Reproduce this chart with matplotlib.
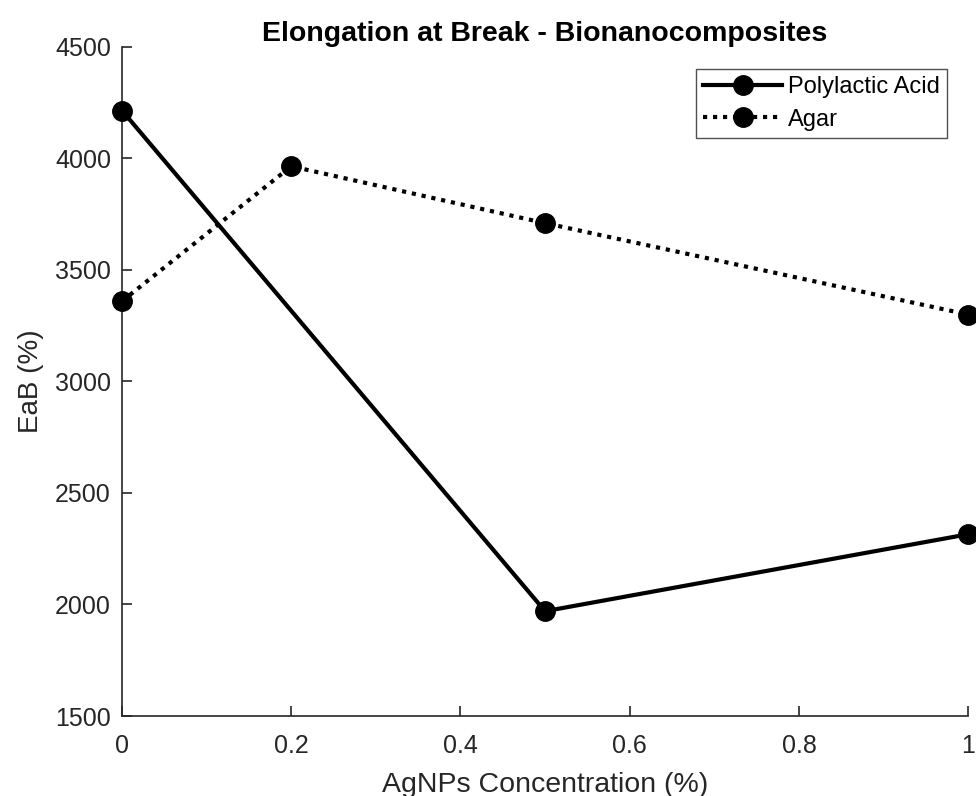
import matplotlib
matplotlib.use("Agg")
import matplotlib.pyplot as plt

plt.rcParams['font.family'] = ['Liberation Sans', 'DejaVu Sans']

# Data
conc_pla = [0, 0.5, 1]
eab_pla = [4215, 1970, 2315]
conc_agar = [0, 0.2, 0.5, 1]
eab_agar = [3360, 3965, 3710, 3300]

axis_col = '#262626'

fig = plt.figure(figsize=(9.76, 7.96), dpi=100)
ax = fig.add_axes([0.125, 0.1005, 0.867, 0.8405])

ax.plot(conc_pla, eab_pla, color='black', lw=3, marker='o', markersize=14,
        label='Polylactic Acid', clip_on=False, zorder=3)
ax.plot(conc_agar, eab_agar, color='black', lw=3, marker='o', markersize=14,
        linestyle=(0, (1, 1.4)), dash_capstyle='butt',
        label='Agar', clip_on=False, zorder=3)

ax.set_xlim(0, 1)
ax.set_ylim(1500, 4500)
ax.set_xticks([0, 0.2, 0.4, 0.6, 0.8, 1])
ax.set_xticklabels(['0', '0.2', '0.4', '0.6', '0.8', '1'])
ax.set_yticks([1500, 2000, 2500, 3000, 3500, 4000, 4500])

for s in ['top', 'right']:
    ax.spines[s].set_visible(False)
for s in ['left', 'bottom']:
    ax.spines[s].set_color(axis_col)
    ax.spines[s].set_linewidth(1.2)
ax.tick_params(direction='in', length=7, width=1.2, colors=axis_col,
               labelsize=18)
ax.tick_params(axis='x', pad=13)
ax.tick_params(axis='y', pad=8)

ax.set_title('Elongation at Break - Bionanocomposites', fontsize=20.5,
             fontweight='bold', pad=4)
ax.set_xlabel('AgNPs Concentration (%)', fontsize=20.5, color=axis_col, labelpad=10)
ax.set_ylabel('EaB (%)', fontsize=20, color=axis_col, labelpad=8)

leg = ax.legend(loc='upper right', bbox_to_anchor=(0.975, 0.967), fontsize=17,
                frameon=True, fancybox=False, handlelength=3.35,
                borderpad=0.3, labelspacing=0.45, handletextpad=0.25,
                borderaxespad=0)
leg.get_frame().set_edgecolor(axis_col)
leg.get_frame().set_linewidth(1.0)

fig.savefig('out.png', dpi=100)
